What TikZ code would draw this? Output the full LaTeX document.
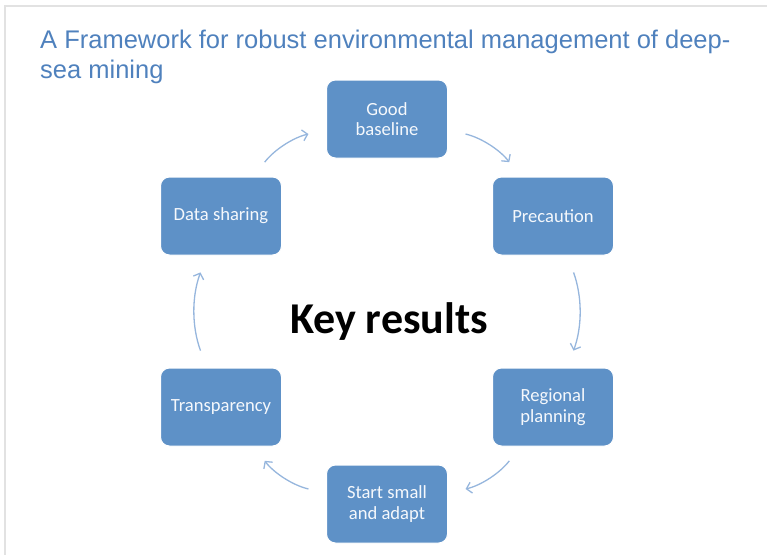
\documentclass[tikz,border=0pt]{standalone}
\usepackage{fontspec}
\setmainfont{Carlito}
\newfontfamily\titlefont{Liberation Sans}
\usetikzlibrary{arrows.meta,positioning}
\definecolor{boxblue}{RGB}{94,145,199}
\definecolor{arrowblue}{RGB}{150,182,221}
\definecolor{titleblue}{RGB}{79,129,189}
\definecolor{framegray}{RGB}{226,226,226}
\tikzset
{
    stepbox/.style = {rectangle, rounded corners=9pt, fill=boxblue, draw=white, line width=1pt, minimum width=121pt, minimum height=78pt, align=center, text=white!94!boxblue, font=\fontsize{18.6}{20.5}\selectfont},
    cyclearrow/.style = {draw=arrowblue, line width=1.3pt, -{Straight Barb[length=5pt,width=11pt]}, bend left=20, shorten <=18pt, shorten >=18pt}
}

\begin{document}
\begin{tikzpicture}[x=1pt, y=-1pt]
\useasboundingbox (0,0) rectangle (767,555);
\draw[framegray, line width=2pt] (5,555) -- (5,6) -- (767,6);
\node(title) [anchor=north west, inner sep=0pt, align=left, text=titleblue, font=\titlefont\fontsize{25.5}{30}\selectfont] at (40,29.5) {A Framework for robust environmental management of deep-\\sea mining};
% the six steps, clockwise from the top
\node(base) [stepbox] at (387,119) {Good\\baseline};
\node(prec) [stepbox] at (553,216) {Precaution};
\node(region) [stepbox] at (553,407) {Regional\\planning};
\node(start) [stepbox] at (387,504) {Start small\\and adapt};
\node(transp) [stepbox] at (221,407) {Transparency};
\node(share) [stepbox] at (221,216) {Data sharing};
\node(key) [anchor=base, font=\bfseries\fontsize{44}{44}\selectfont] at (389,333) {Key results};
\draw[cyclearrow] (share) to (base);
\draw[cyclearrow] (base) to (prec);
\draw[cyclearrow] (prec) to (region);
\draw[cyclearrow] (region) to (start);
\draw[cyclearrow] (start) to (transp);
\draw[cyclearrow] (transp) to (share);
\end{tikzpicture}
\end{document}
